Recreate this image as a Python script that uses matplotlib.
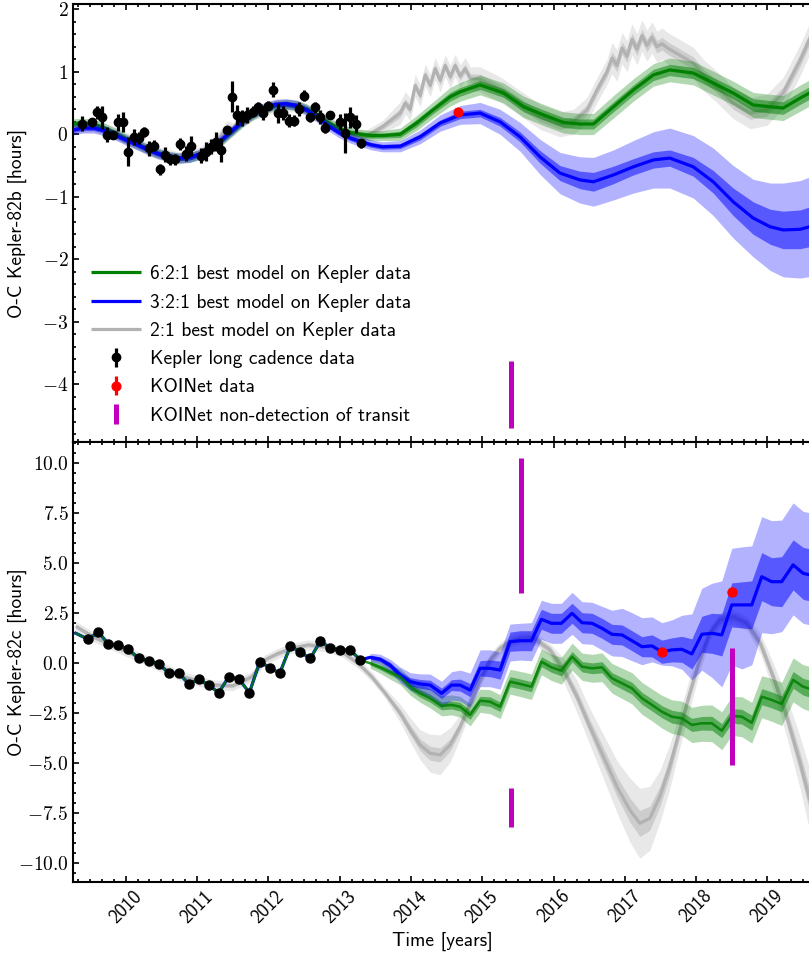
import numpy as np
import matplotlib
matplotlib.use("Agg")
import matplotlib.pyplot as plt
from matplotlib.ticker import MultipleLocator, FuncFormatter

plt.rcParams['mathtext.fontset'] = 'cm'
plt.rcParams['font.family'] = ['cmss10', 'DejaVu Sans']
plt.rcParams['axes.unicode_minus'] = False

# ---------------- Kepler-82b (top panel) ----------------
kep_b_t = [2009.385, 2009.525, 2009.60, 2009.67, 2009.74, 2009.82, 2009.885, 2009.96,
           2010.035, 2010.11, 2010.18, 2010.26, 2010.33, 2010.40, 2010.475, 2010.545,
           2010.615, 2010.69, 2010.765, 2010.84, 2010.91, 2011.055, 2011.125, 2011.195,
           2011.27, 2011.34, 2011.415, 2011.485, 2011.56, 2011.63, 2011.70, 2011.78,
           2011.85, 2011.92, 2011.99, 2012.07, 2012.14, 2012.21, 2012.29, 2012.36,
           2012.43, 2012.50, 2012.58, 2012.65, 2012.72, 2012.79, 2012.87, 2013.01,
           2013.08, 2013.15, 2013.225, 2013.295]
kep_b_y = [0.165, 0.19, 0.35, 0.27, -0.01, -0.01, 0.19, 0.19,
           -0.28, -0.04, -0.06, 0.04, -0.22, -0.18, -0.56, -0.33,
           -0.40, -0.40, -0.155, -0.315, -0.19, -0.34, -0.28, -0.20,
           -0.12, -0.25, 0.07, 0.60, 0.31, 0.26, 0.31, 0.36,
           0.43, 0.34, 0.46, 0.71, 0.34, 0.34, 0.22, 0.22,
           0.40, 0.62, 0.27, 0.43, 0.28, 0.105, 0.31, 0.20,
           0.015, 0.27, 0.165, -0.145]
kep_b_err = [0.12, 0.07, 0.10, 0.19, 0.12, 0.07, 0.13, 0.16,
             0.23, 0.13, 0.10, 0.08, 0.12, 0.09, 0.09, 0.12,
             0.09, 0.09, 0.09, 0.12, 0.16, 0.12, 0.15, 0.12,
             0.15, 0.19, 0.07, 0.25, 0.16, 0.13, 0.13, 0.09,
             0.09, 0.11, 0.07, 0.12, 0.16, 0.11, 0.11, 0.09,
             0.11, 0.09, 0.07, 0.09, 0.11, 0.09, 0.06, 0.13,
             0.32, 0.17, 0.15, 0.07]

# 6:2:1 model, planet b
green_b_t = [2009.27, 2009.40, 2009.55, 2009.70, 2009.85, 2010.00, 2010.15, 2010.30, 2010.45, 2010.60,
             2010.75, 2010.90, 2011.05, 2011.20, 2011.35, 2011.50, 2011.65, 2011.80, 2011.95, 2012.10,
             2012.25, 2012.40, 2012.55, 2012.70, 2012.85, 2013.00, 2013.15, 2013.30, 2013.45, 2013.60,
             2013.85, 2014.08, 2014.31, 2014.55, 2014.69, 2014.97, 2015.30, 2015.58, 2015.86, 2016.14,
             2016.37, 2016.56, 2016.84, 2017.12, 2017.40, 2017.63, 2017.96, 2018.24, 2018.52, 2018.80,
             2019.04, 2019.22, 2019.46, 2019.62]
green_b_y = [0.17, 0.18, 0.16, 0.10, 0.02, -0.07, -0.15, -0.23, -0.30, -0.35,
             -0.38, -0.37, -0.32, -0.23, -0.10, 0.05, 0.20, 0.32, 0.41, 0.46,
             0.48, 0.46, 0.40, 0.30, 0.18, 0.09, 0.03, 0.00, -0.02, -0.02,
             0.00, 0.18, 0.39, 0.60, 0.68, 0.79, 0.66, 0.44, 0.31, 0.19,
             0.165, 0.165, 0.44, 0.71, 0.95, 1.03, 0.98, 0.82, 0.66, 0.47,
             0.44, 0.42, 0.58, 0.68]
green_b_in = [0.04, 0.04, 0.04, 0.04, 0.04, 0.04, 0.04, 0.04, 0.04, 0.04,
              0.04, 0.04, 0.04, 0.04, 0.04, 0.04, 0.04, 0.04, 0.04, 0.04,
              0.04, 0.04, 0.04, 0.04, 0.04, 0.04, 0.04, 0.04, 0.04, 0.04,
              0.05, 0.06, 0.06, 0.07, 0.07, 0.07, 0.07, 0.08, 0.08, 0.08,
              0.08, 0.08, 0.08, 0.08, 0.09, 0.09, 0.09, 0.09, 0.09, 0.10,
              0.10, 0.10, 0.10, 0.10]
green_b_out = [0.08, 0.08, 0.08, 0.08, 0.08, 0.08, 0.08, 0.08, 0.08, 0.08,
               0.08, 0.08, 0.08, 0.08, 0.08, 0.08, 0.08, 0.08, 0.08, 0.08,
               0.08, 0.08, 0.08, 0.08, 0.08, 0.08, 0.08, 0.08, 0.08, 0.08,
               0.10, 0.12, 0.13, 0.15, 0.15, 0.16, 0.16, 0.17, 0.17, 0.17,
               0.17, 0.17, 0.18, 0.18, 0.18, 0.19, 0.19, 0.19, 0.19, 0.20,
               0.20, 0.20, 0.21, 0.21]

# 3:2:1 model, planet b
blue_b_t = [2009.27, 2009.40, 2009.55, 2009.70, 2009.85, 2010.00, 2010.15, 2010.30, 2010.45, 2010.60,
            2010.75, 2010.90, 2011.05, 2011.20, 2011.35, 2011.50, 2011.65, 2011.80, 2011.95, 2012.10,
            2012.25, 2012.40, 2012.55, 2012.70, 2012.85, 2013.00, 2013.15, 2013.30, 2013.45, 2013.60,
            2013.85, 2014.13, 2014.41, 2014.69, 2014.97, 2015.25, 2015.53, 2015.81, 2016.09, 2016.37,
            2016.56, 2016.84, 2017.12, 2017.40, 2017.63, 2017.96, 2018.24, 2018.52, 2018.80, 2019.04,
            2019.22, 2019.46, 2019.62]
blue_b_y = [0.07, 0.10, 0.10, 0.06, -0.01, -0.09, -0.16, -0.24, -0.31, -0.36,
            -0.38, -0.37, -0.31, -0.21, -0.08, 0.07, 0.22, 0.34, 0.43, 0.48,
            0.49, 0.46, 0.38, 0.26, 0.13, 0.02, -0.06, -0.12, -0.17, -0.20,
            -0.19, -0.04, 0.18, 0.31, 0.34, 0.20, -0.04, -0.36, -0.62, -0.73,
            -0.76, -0.65, -0.52, -0.41, -0.38, -0.52, -0.76, -1.08, -1.34, -1.48,
            -1.53, -1.52, -1.47]
blue_b_in = [0.04, 0.04, 0.04, 0.04, 0.04, 0.04, 0.04, 0.04, 0.04, 0.04,
             0.04, 0.04, 0.04, 0.04, 0.04, 0.04, 0.04, 0.04, 0.04, 0.04,
             0.04, 0.04, 0.04, 0.04, 0.04, 0.04, 0.04, 0.04, 0.04, 0.04,
             0.04, 0.05, 0.05, 0.06, 0.06, 0.07, 0.08, 0.10, 0.12, 0.14,
             0.15, 0.14, 0.13, 0.13, 0.13, 0.15, 0.18, 0.22, 0.26, 0.28,
             0.30, 0.31, 0.32]
blue_b_out = [0.08, 0.08, 0.08, 0.08, 0.08, 0.08, 0.08, 0.08, 0.08, 0.08,
              0.08, 0.08, 0.08, 0.08, 0.08, 0.08, 0.08, 0.08, 0.08, 0.08,
              0.08, 0.08, 0.08, 0.08, 0.08, 0.08, 0.08, 0.08, 0.08, 0.08,
              0.09, 0.11, 0.13, 0.15, 0.17, 0.20, 0.23, 0.28, 0.33, 0.37,
              0.39, 0.40, 0.42, 0.45, 0.48, 0.50, 0.54, 0.58, 0.62, 0.70,
              0.75, 0.78, 0.80]

# 2:1 model, planet b
gray_b_t = [2009.27, 2009.55, 2009.85, 2010.15, 2010.45, 2010.75, 2011.05, 2011.25, 2011.35, 2011.42,
            2011.50, 2011.60, 2011.80, 2012.10, 2012.40, 2012.70, 2013.00, 2013.20, 2013.36, 2013.60,
            2013.85, 2013.92, 2013.99, 2014.06, 2014.13, 2014.20, 2014.27, 2014.34, 2014.41, 2014.48,
            2014.55, 2014.62, 2014.69, 2014.76, 2014.83, 2014.97, 2015.25, 2015.53, 2015.81, 2016.09,
            2016.28, 2016.47, 2016.61, 2016.75, 2016.82, 2016.89, 2016.96, 2017.03, 2017.10, 2017.17,
            2017.24, 2017.31, 2017.38, 2017.45, 2017.52, 2017.60, 2017.75, 2017.96, 2018.10, 2018.29,
            2018.52, 2018.76, 2018.99, 2019.22, 2019.46, 2019.62]
gray_b_y = [0.12, 0.14, 0.02, -0.15, -0.30, -0.38, -0.30, -0.12, 0.00, 0.12,
            0.08, 0.22, 0.33, 0.46, 0.46, 0.30, 0.08, -0.02, -0.04, 0.12,
            0.34, 0.50, 0.40, 0.78, 0.62, 0.95, 0.78, 1.05, 0.86, 1.10,
            0.92, 1.10, 0.93, 1.05, 0.90, 0.88, 0.72, 0.50, 0.28, 0.16,
            0.20, 0.39, 0.71, 1.00, 1.22, 1.10, 1.38, 1.25, 1.52, 1.36,
            1.58, 1.42, 1.55, 1.40, 1.45, 1.38, 1.28, 1.14, 0.95, 0.76,
            0.50, 0.34, 0.39, 0.66, 1.19, 1.60]
gray_b_in = [0.05, 0.05, 0.05, 0.05, 0.05, 0.05, 0.05, 0.05, 0.05, 0.05,
             0.05, 0.05, 0.05, 0.05, 0.05, 0.05, 0.05, 0.05, 0.05, 0.05,
             0.07, 0.07, 0.07, 0.07, 0.07, 0.07, 0.07, 0.07, 0.07, 0.07,
             0.07, 0.07, 0.07, 0.07, 0.07, 0.08, 0.08, 0.08, 0.08, 0.08,
             0.08, 0.08, 0.08, 0.08, 0.10, 0.10, 0.10, 0.10, 0.10, 0.10,
             0.10, 0.10, 0.10, 0.10, 0.10, 0.10, 0.10, 0.10, 0.10, 0.10,
             0.10, 0.10, 0.10, 0.10, 0.10, 0.10]
gray_b_out = [0.10, 0.10, 0.10, 0.10, 0.10, 0.10, 0.10, 0.10, 0.10, 0.10,
              0.10, 0.10, 0.10, 0.10, 0.10, 0.10, 0.10, 0.10, 0.10, 0.10,
              0.18, 0.18, 0.18, 0.18, 0.18, 0.18, 0.18, 0.18, 0.18, 0.18,
              0.18, 0.18, 0.18, 0.18, 0.18, 0.20, 0.20, 0.20, 0.20, 0.20,
              0.20, 0.20, 0.20, 0.20, 0.25, 0.25, 0.25, 0.25, 0.25, 0.25,
              0.25, 0.25, 0.25, 0.25, 0.25, 0.25, 0.25, 0.25, 0.25, 0.25,
              0.25, 0.25, 0.25, 0.25, 0.25, 0.25]

koi_b_t = [2014.665]
koi_b_y = [0.35]
nodet_b_t = [2015.40]
nodet_b_lo = [-4.70]
nodet_b_hi = [-3.62]

# ---------------- Kepler-82c (bottom panel) ----------------
kep_c_t = [2009.475, 2009.615, 2009.755, 2009.895, 2010.035, 2010.185, 2010.325, 2010.465,
           2010.605, 2010.745, 2010.885, 2011.025, 2011.165, 2011.305, 2011.445, 2011.59,
           2011.735, 2011.88, 2012.02, 2012.16, 2012.31, 2012.45, 2012.59, 2012.73,
           2012.87, 2013.01, 2013.15, 2013.29]
kep_c_y = [1.20, 1.57, 0.97, 0.92, 0.70, 0.25, 0.12, -0.03,
           -0.50, -0.50, -1.03, -0.80, -1.10, -1.47, -0.67, -0.80,
           -1.47, 0.08, -0.22, -0.50, 0.865, 0.55, 0.25, 1.115,
           0.75, 0.665, 0.665, 0.165]
kep_c_err = [0.08, 0.08, 0.08, 0.08, 0.08, 0.08, 0.08, 0.08,
             0.08, 0.08, 0.08, 0.08, 0.08, 0.08, 0.08, 0.08,
             0.08, 0.08, 0.08, 0.08, 0.08, 0.08, 0.08, 0.08,
             0.08, 0.08, 0.08, 0.08]

model_c_start_t = [2009.30]
model_c_start_y = [1.50]

fut_c_t = [2013.43, 2013.57, 2013.71,
           2013.85, 2013.99, 2014.13, 2014.27, 2014.43, 2014.57, 2014.69, 2014.83, 2014.97,
           2015.11, 2015.25, 2015.39, 2015.53, 2015.69, 2015.83, 2015.97,
           2016.11, 2016.26, 2016.40, 2016.54, 2016.68, 2016.82, 2016.96,
           2017.10, 2017.24, 2017.38, 2017.52, 2017.66, 2017.80, 2017.94,
           2018.08, 2018.22, 2018.36, 2018.50, 2018.64, 2018.78, 2018.92,
           2019.06, 2019.20, 2019.36, 2019.50, 2019.62]
blue_c_y = [0.30, 0.20, -0.10,
            -0.59, -0.92, -1.03, -1.09, -1.50, -1.09, -1.09, -1.34, -0.25,
            -0.25, -0.34, 1.08, 1.13, 1.13, 2.20, 2.00,
            2.00, 2.50, 2.03, 2.00, 1.75, 1.45, 1.42,
            1.13, 0.83, 0.87, 0.58, 0.67, 0.70, 0.47,
            1.45, 1.50, 1.42, 2.92, 2.92, 2.92, 4.33,
            4.08, 4.08, 4.92, 4.50, 4.40]
blue_c_in = [0.10, 0.12, 0.15,
             0.18, 0.20, 0.22, 0.24, 0.26, 0.27, 0.30, 0.33, 0.38,
             0.42, 0.45, 0.48, 0.50, 0.50, 0.50, 0.50,
             0.50, 0.50, 0.50, 0.50, 0.50, 0.50, 0.50,
             0.50, 0.50, 0.55, 0.58, 0.60, 0.65, 0.75,
             0.90, 1.00, 1.05, 1.10, 1.15, 1.20, 1.20,
             1.20, 1.25, 1.25, 1.30, 1.30]
blue_c_out_up = [0.20, 0.25, 0.30,
                 0.40, 0.45, 0.50, 0.55, 0.60, 0.67, 0.75, 0.85, 0.92,
                 0.92, 0.90, 0.88, 0.87, 0.90, 0.95, 1.00,
                 1.00, 1.05, 1.05, 1.05, 1.10, 1.20, 1.33,
                 1.40, 1.45, 1.45, 1.45, 1.50, 1.70, 2.00,
                 2.30, 2.50, 2.70, 2.83, 2.90, 2.95, 3.00,
                 3.05, 3.08, 3.10, 3.10, 3.10]
blue_c_out_dn = [0.20, 0.25, 0.30,
                 0.38, 0.42, 0.50, 0.60, 0.70, 0.75, 0.80, 0.85, 0.92,
                 0.92, 0.95, 0.97, 0.97, 1.00, 1.00, 1.00,
                 1.00, 1.05, 1.05, 1.05, 1.08, 1.08, 1.08,
                 1.00, 0.90, 0.80, 0.67, 0.80, 1.00, 1.30,
                 1.80, 2.20, 2.60, 3.00, 3.20, 3.00, 2.80,
                 2.60, 2.50, 2.50, 2.50, 2.50]
green_c_y = [0.00, -0.20, -0.45,
             -0.67, -1.17, -1.50, -1.75, -2.13, -2.08, -2.17, -2.58, -1.87,
             -1.92, -2.17, -0.92, -1.03, -1.17, 0.08, -0.20,
             -0.37, 0.33, -0.17, -0.25, -0.20, -0.75, -1.00,
             -1.25, -1.75, -2.08, -2.42, -2.67, -2.75, -3.08,
             -3.00, -3.00, -3.37, -2.63, -2.67, -2.97, -1.67,
             -1.83, -2.03, -0.83, -1.17, -1.30]
green_c_in = [0.10, 0.12, 0.14,
              0.16, 0.18, 0.20, 0.20, 0.20, 0.20, 0.22, 0.22, 0.22,
              0.24, 0.24, 0.25, 0.25, 0.25, 0.25, 0.25,
              0.26, 0.26, 0.26, 0.27, 0.28, 0.28, 0.29,
              0.30, 0.30, 0.30, 0.30, 0.32, 0.32, 0.33,
              0.34, 0.35, 0.35, 0.36, 0.37, 0.38, 0.40,
              0.40, 0.40, 0.42, 0.42, 0.42]
green_c_out = [0.25, 0.30, 0.35,
               0.40, 0.42, 0.45, 0.48, 0.50, 0.50, 0.52, 0.55, 0.58,
               0.60, 0.60, 0.62, 0.63, 0.64, 0.65, 0.66,
               0.67, 0.68, 0.68, 0.70, 0.72, 0.74, 0.76,
               0.78, 0.80, 0.80, 0.82, 0.84, 0.86, 0.88,
               0.90, 0.92, 0.95, 0.97, 1.00, 1.02, 1.05,
               1.07, 1.08, 1.10, 1.10, 1.12]

gray_c_t = [2009.30, 2009.54, 2009.96, 2010.38, 2010.80, 2011.22, 2011.50, 2011.77, 2011.95, 2012.14,
            2012.33, 2012.56, 2012.80, 2013.03, 2013.26, 2013.45, 2013.64, 2013.85, 2013.99, 2014.13,
            2014.27, 2014.41, 2014.55, 2014.69, 2014.83, 2014.97, 2015.11, 2015.25, 2015.39, 2015.53,
            2015.65, 2015.76, 2015.95, 2016.14, 2016.33, 2016.51, 2016.70, 2016.89, 2017.07, 2017.21,
            2017.35, 2017.49, 2017.63, 2017.77, 2017.91, 2018.05, 2018.19, 2018.33, 2018.52, 2018.71,
            2018.90, 2019.08, 2019.27, 2019.46, 2019.62]
gray_c_y = [1.85, 1.33, 0.67, 0.00, -0.67, -1.08, -1.12, -0.67, 0.17, 0.50,
            0.75, 0.92, 0.83, 0.58, 0.00, -0.67, -1.50, -2.50, -3.33, -4.08,
            -4.50, -4.58, -4.08, -3.17, -2.00, -0.83, 0.17, 0.75, 1.08, 1.25,
            1.28, 1.17, 0.67, -0.33, -1.67, -3.17, -4.67, -6.17, -7.33, -8.00,
            -7.75, -6.67, -5.17, -3.33, -1.50, 0.17, 1.50, 2.17, 2.33, 2.00,
            1.00, -0.67, -2.67, -5.00, -7.20]
gray_c_in = [0.10, 0.10, 0.10, 0.10, 0.10, 0.10, 0.10, 0.10, 0.10, 0.10,
             0.10, 0.10, 0.10, 0.10, 0.10, 0.10, 0.10, 0.20, 0.25, 0.30,
             0.35, 0.35, 0.30, 0.25, 0.20, 0.20, 0.18, 0.18, 0.18, 0.18,
             0.18, 0.18, 0.18, 0.25, 0.30, 0.35, 0.45, 0.50, 0.60, 0.65,
             0.60, 0.50, 0.45, 0.35, 0.30, 0.25, 0.20, 0.20, 0.20, 0.20,
             0.25, 0.30, 0.40, 0.50, 0.60]
gray_c_out = [0.25, 0.25, 0.25, 0.25, 0.25, 0.25, 0.25, 0.25, 0.25, 0.25,
              0.25, 0.25, 0.25, 0.25, 0.25, 0.25, 0.25, 0.45, 0.60, 0.75,
              0.95, 1.00, 0.85, 0.60, 0.45, 0.35, 0.30, 0.30, 0.30, 0.30,
              0.30, 0.30, 0.30, 0.60, 0.80, 0.90, 1.10, 1.30, 1.60, 1.75,
              1.60, 1.30, 1.10, 0.90, 0.80, 0.60, 0.35, 0.35, 0.35, 0.35,
              0.50, 0.70, 1.00, 1.30, 1.60]

koi_c_t = [2017.52, 2018.51]
koi_c_y = [0.58, 3.55]
nodet_c_t = [2015.545, 2015.40, 2018.51]
nodet_c_lo = [3.50, -8.17, -5.08]
nodet_c_hi = [10.25, -6.25, 0.75]

labels = ["6:2:1 best model on Kepler data", "3:2:1 best model on Kepler data",
          "2:1 best model on Kepler data", "Kepler long cadence data",
          "KOINet data", "KOINet non-detection of transit"]

# ---------------- styling ----------------
C_GREEN = 'green'
C_BLUE = 'blue'
C_GRAY_LINE = '#b2b2b2'
LW = 2.3

W, H = 809, 963
fig = plt.figure(figsize=(W / 100, H / 100), dpi=100)
left = 73.3 / W
width = (811.5 - 73.3) / W
ax1 = fig.add_axes([left, 1 - 442.3 / H, width, (442.3 - 4.5) / H])
ax2 = fig.add_axes([left, 1 - 882.3 / H, width, (882.3 - 442.3) / H], sharex=ax1)


def band(ax, t, y, lo, hi, color, alpha, z):
    t = np.asarray(t); y = np.asarray(y)
    ax.fill_between(t, y - np.asarray(lo), y + np.asarray(hi), color=color, alpha=alpha,
                    lw=0, zorder=z)


def model(ax, t, y, w_in, w_out_lo, w_out_hi, color, a_out, a_in, lcolor, z):
    band(ax, t, y, w_out_lo, w_out_hi, color, a_out, z)
    band(ax, t, y, w_in, w_in, color, a_in, z + 0.1)
    ln, = ax.plot(t, y, color=lcolor, lw=LW, zorder=z + 0.2, solid_capstyle='butt')
    return ln


# top panel
h_gray = model(ax1, gray_b_t, gray_b_y, gray_b_in, gray_b_out, gray_b_out, 'gray', 0.18, 0.25, C_GRAY_LINE, 1)
h_green = model(ax1, green_b_t, green_b_y, green_b_in, green_b_out, green_b_out, C_GREEN, 0.3, 0.5, C_GREEN, 2)
h_blue = model(ax1, blue_b_t, blue_b_y, blue_b_in, blue_b_out, blue_b_out, C_BLUE, 0.3, 0.5, C_BLUE, 3)
h_kep = ax1.errorbar(kep_b_t, kep_b_y, yerr=kep_b_err, fmt='o', color='k', ms=6.0,
                     elinewidth=2.3, capsize=0, zorder=5)
h_koi = ax1.errorbar(koi_b_t, koi_b_y, yerr=[0.04], fmt='o', color='red', ms=6.3,
                     elinewidth=2.3, capsize=0, zorder=6)
nb_t = np.asarray(nodet_b_t); nb_lo = np.asarray(nodet_b_lo); nb_hi = np.asarray(nodet_b_hi)
h_nd = ax1.errorbar(nb_t, (nb_lo + nb_hi) / 2, yerr=(nb_hi - nb_lo) / 2, fmt='none',
                    ecolor='m', elinewidth=3.6, capsize=0, zorder=6)

# bottom panel
model(ax2, gray_c_t, gray_c_y, gray_c_in, gray_c_out, gray_c_out, 'gray', 0.18, 0.25, C_GRAY_LINE, 1)
band(ax2, fut_c_t, green_c_y, green_c_out, green_c_out, C_GREEN, 0.3, 2)
band(ax2, fut_c_t, green_c_y, green_c_in, green_c_in, C_GREEN, 0.5, 2.1)
band(ax2, fut_c_t, blue_c_y, blue_c_out_dn, blue_c_out_up, C_BLUE, 0.3, 3)
band(ax2, fut_c_t, blue_c_y, blue_c_in, blue_c_in, C_BLUE, 0.5, 3.1)
tc = np.concatenate([model_c_start_t, kep_c_t, fut_c_t])
ax2.plot(tc, np.concatenate([model_c_start_y, kep_c_y, blue_c_y]), color=C_BLUE, lw=LW, zorder=3.2)
ax2.plot(tc, np.concatenate([model_c_start_y, kep_c_y, green_c_y]), color=C_GREEN, lw=LW * 0.8,
         alpha=0.85, zorder=3.3)
ax2.errorbar(kep_c_t, kep_c_y, yerr=kep_c_err, fmt='o', color='k', ms=6.5,
             elinewidth=2, capsize=0, zorder=5)
ax2.errorbar(koi_c_t, koi_c_y, yerr=[0.05, 0.05], fmt='o', color='red', ms=6.5,
             elinewidth=2, capsize=0, zorder=6)
nc_t = np.asarray(nodet_c_t); nc_lo = np.asarray(nodet_c_lo); nc_hi = np.asarray(nodet_c_hi)
ax2.errorbar(nc_t, (nc_lo + nc_hi) / 2, yerr=(nc_hi - nc_lo) / 2, fmt='none',
             ecolor='m', elinewidth=3.6, capsize=0, zorder=6)

# axes cosmetics
ax1.set_xlim(2009.265, 2019.618)
ax1.set_ylim(-4.928, 2.077)
ax2.set_ylim(-10.95, 11.05)


def int_fmt(v, pos):
    r = int(round(v))
    return r'$-\mathrm{%d}$' % abs(r) if r < 0 else r'$\mathrm{%d}$' % r


def dec_fmt(v, pos):
    if v < -1e-9:
        return r'$-\mathrm{%.1f}$' % abs(v)
    return r'$\mathrm{%.1f}$' % abs(v)


for ax in (ax1, ax2):
    ax.xaxis.set_major_locator(MultipleLocator(1))
    ax.xaxis.set_minor_locator(MultipleLocator(1 / 6))
    ax.tick_params(which='both', direction='in', top=True, right=False, width=1.2)
    ax.tick_params(which='major', length=4.5, labelsize=14)
    ax.tick_params(which='minor', length=2.5)
    for s in ax.spines.values():
        s.set_linewidth(1.5)

ax1.yaxis.set_major_locator(MultipleLocator(1))
ax1.yaxis.set_minor_locator(MultipleLocator(0.2))
ax1.yaxis.set_major_formatter(FuncFormatter(int_fmt))
ax2.yaxis.set_major_locator(MultipleLocator(2.5))
ax2.yaxis.set_minor_locator(MultipleLocator(0.5))
ax2.yaxis.set_major_formatter(FuncFormatter(dec_fmt))
ax2.xaxis.set_major_formatter(FuncFormatter(lambda v, p: '%d' % int(round(v))))
plt.setp(ax1.get_xticklabels(), visible=False)
for lab in ax2.get_xticklabels():
    lab.set_rotation(45)
    lab.set_fontsize(13.5)

ax1.set_ylabel('O-C Kepler-82b [hours]', fontsize=14)
ax2.set_ylabel('O-C Kepler-82c [hours]', fontsize=14)
ax1.yaxis.set_label_coords(-0.063, 0.5)
ax2.yaxis.set_label_coords(-0.063, 0.5)
ax2.set_xlabel('Time [years]', fontsize=14)

ax1.legend([h_green, h_blue, h_gray, h_kep, h_koi, h_nd], labels, loc='lower left',
           frameon=False, fontsize=14, handlelength=2.6, handletextpad=0.45,
           labelspacing=0.53, borderaxespad=0.5)

fig.savefig('out.png', dpi=100)
